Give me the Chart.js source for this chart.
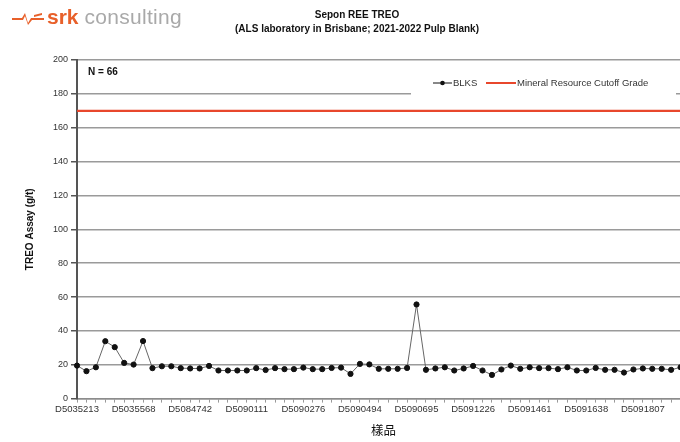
<!DOCTYPE html>
<html>
<head>
<meta charset="utf-8">
<script src="https://cdn.jsdelivr.net/npm/chart.js@4/dist/chart.umd.min.js"></script>
<style>
html,body{margin:0;padding:0;background:#fff;overflow:hidden;width:680px;height:442px;}
#wrap{position:absolute;left:0;top:0;width:700px;height:442px;}
#logo{position:absolute;left:12px;top:5px;font-family:"Liberation Sans",Arial,sans-serif;font-size:21px;white-space:nowrap;z-index:2;}
#logo .srk{color:#e8602a;font-weight:bold;}
#logo .con{color:#a9a9a9;letter-spacing:0.3px;}
#logo svg{vertical-align:-1px;margin-right:3px;}
</style>
</head>
<body>
<div id="logo"><svg width="32" height="14" viewBox="0 0 32 14"><path d="M0 7 L10 7 L13 2 L16 12 L19 7 L32 7 L32 9 L20 9 L16 14 L13 5 L11 9 L0 9 Z" fill="#e8602a"/><path d="M22 4 L30 2 L30 4 L22 6 Z" fill="#e8602a"/></svg><span class="srk">srk</span> <span class="con">consulting</span></div>
<div id="wrap"><canvas id="c" width="700" height="442"></canvas></div>
<script>
const sampleIds = ['D5035213','D5035568','D5084742','D5090111','D5090276','D5090494','D5090695','D5091226','D5091461','D5091638','D5091807'];
const labelEvery = 6;
const blks = [19.5,16.2,18.5,33.9,30.4,21.1,20.1,34.0,18.0,19.1,19.1,18.0,17.8,17.8,19.3,16.6,16.6,16.6,16.6,18.0,
16.9,18.0,17.4,17.4,18.3,17.4,17.4,18.1,18.3,14.6,20.5,20.2,17.6,17.6,17.6,18.1,55.6,17.0,17.8,18.5,
16.6,17.8,19.3,16.6,14.0,17.2,19.5,17.6,18.5,18.0,18.0,17.4,18.5,16.6,16.6,18.1,17.0,17.0,15.4,17.2,
17.8,17.6,17.6,17.0,18.5,18.0];
const cutoffGrade = 170;
const sampleCount = 66;
const yTicks = {min:0,max:200,step:20};
const titleLines = ['Sepon REE TREO','(ALS laboratory in Brisbane; 2021-2022 Pulp Blank)'];
const seriesNames = ['BLKS','Mineral Resource Cutoff Grade'];

const categories = blks.map((v,i)=> (i % labelEvery === 0 && sampleIds[i/labelEvery]) ? sampleIds[i/labelEvery] : '');
const cutoff = blks.map(()=>cutoffGrade);

const FONT = '"Liberation Sans", Arial, sans-serif';

const overlay = {
  id:'overlay',
  afterDatasetsDraw(chart){
    const ctx = chart.ctx, a = chart.chartArea;
    ctx.save();
    ctx.fillStyle = '#111';
    ctx.font = 'bold 10px ' + FONT;
    ctx.textBaseline = 'middle';
    ctx.textAlign = 'left';
    ctx.fillText('N = ' + sampleCount, a.left + 11, a.top + 12);
    const y = chart.scales.y.getPixelForValue(180);
    ctx.fillStyle = '#fff';
    ctx.fillRect(411, a.top + 4, 265, y - a.top + 4);
    const ly = a.top + 23;
    ctx.strokeStyle = '#111'; ctx.lineWidth = 1;
    ctx.beginPath(); ctx.moveTo(433, ly); ctx.lineTo(452, ly); ctx.stroke();
    ctx.fillStyle = '#111';
    ctx.beginPath(); ctx.arc(442.5, ly, 2.3, 0, Math.PI*2); ctx.fill();
    ctx.fillStyle = '#333';
    ctx.font = '9.5px ' + FONT;
    ctx.fillText(seriesNames[0], 453, ly + 0.5);
    ctx.strokeStyle = '#e8472c'; ctx.lineWidth = 2;
    ctx.beginPath(); ctx.moveTo(486, ly); ctx.lineTo(516, ly); ctx.stroke();
    ctx.fillStyle = '#333';
    ctx.fillText(seriesNames[1], 517, ly + 0.5);
    ctx.restore();
  }
};

new Chart(document.getElementById('c'), {
  type:'line',
  data:{
    labels: categories,
    datasets:[
      {label:seriesNames[0], data:blks, borderColor:'#666', borderWidth:1, pointBackgroundColor:'#111', pointBorderColor:'#111', pointRadius:2.6, pointHoverRadius:2.6, tension:0, order:1},
      {label:seriesNames[1], data:cutoff, borderColor:'#e8472c', borderWidth:2.2, pointRadius:0, tension:0, order:2}
    ]
  },
  options:{
    responsive:false,
    animation:false,
    layout:{padding:{left:24, right:10, top:0, bottom:2}},
    plugins:{
      legend:{display:false},
      tooltip:{enabled:false},
      title:{display:true, text:titleLines, color:'#111', font:{family:FONT, size:10, weight:'bold', lineHeight:1.4}, padding:{top:8, bottom:24}}
    },
    scales:{
      x:{
        offset:false,
        grid:{drawOnChartArea:false, drawTicks:true, tickLength:4, color:'#999'},
        border:{color:'#8c8c8c', width:1.5},
        ticks:{autoSkip:false, maxRotation:0, minRotation:0, color:'#333', font:{family:FONT, size:9.5}, padding:1},
        title:{display:true, text:'樣品', color:'#111', font:{family:'"Noto Sans CJK TC", sans-serif', size:12.5}, padding:{top:7,bottom:2}}
      },
      y:{
        min:yTicks.min, max:yTicks.max,
        ticks:{stepSize:yTicks.step, color:'#333', font:{family:FONT, size:9}, padding:3},
        grid:{color:'#9a9a9a', lineWidth:1.5, tickLength:6, tickColor:'#555'},
        border:{color:'#555', width:2},
        title:{display:true, text:'TREO Assay (g/t)', color:'#111', font:{family:FONT, size:10, weight:'bold'}, padding:{top:0,bottom:14}}
      }
    }
  },
  plugins:[overlay]
});
</script>
</body>
</html>
